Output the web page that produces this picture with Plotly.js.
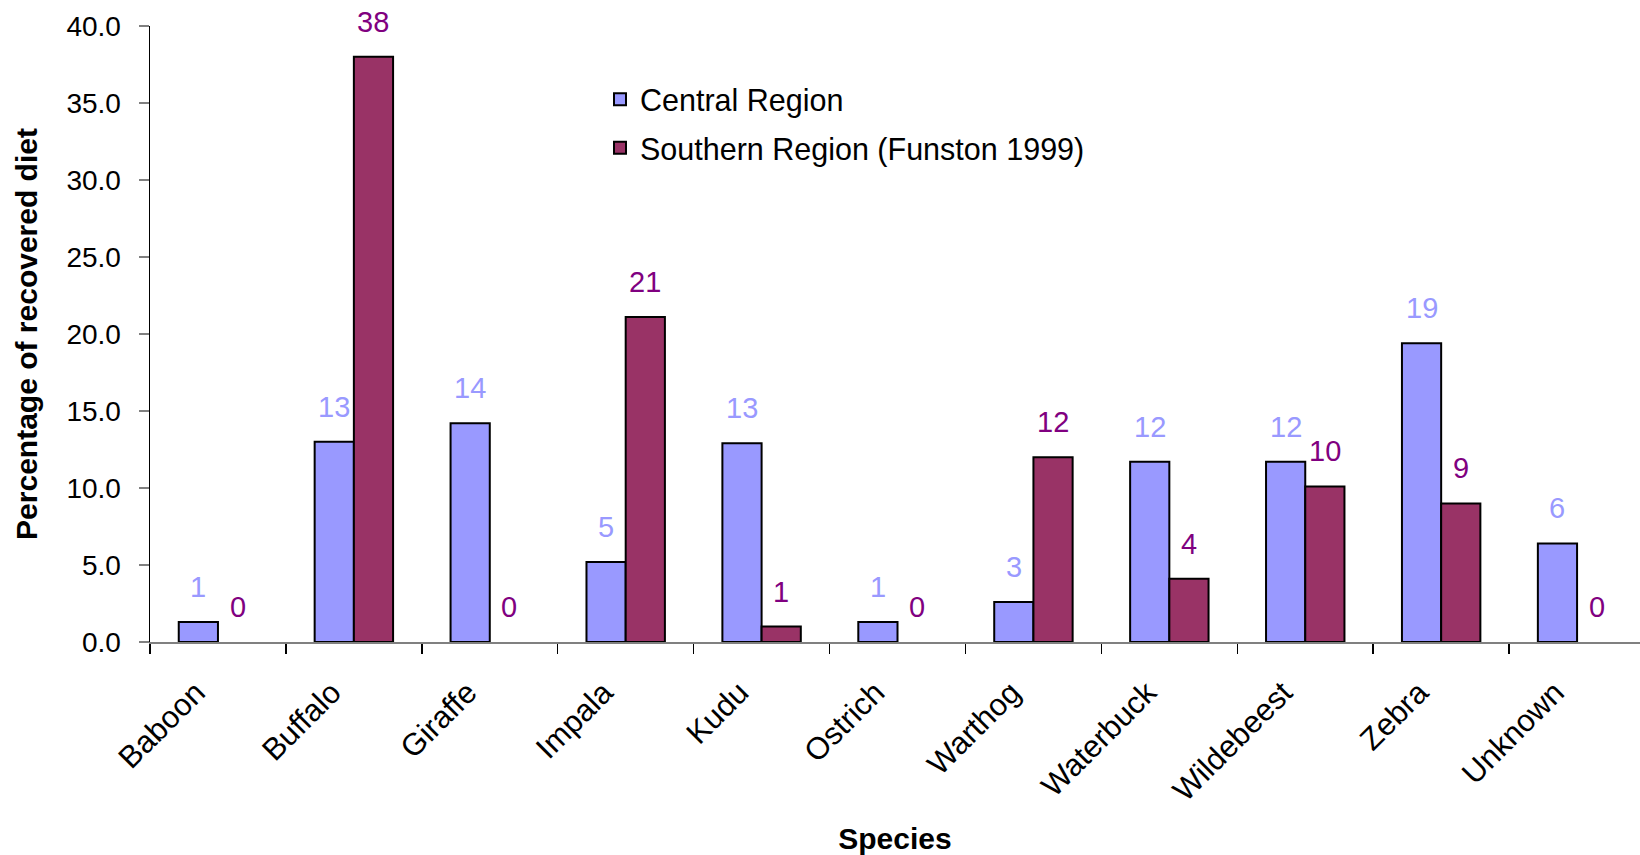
<!DOCTYPE html>
<html><head><meta charset="utf-8">
<script src="https://cdn.plot.ly/plotly-3.0.1.min.js"></script>
<style>html,body{margin:0;padding:0;background:#fff}#chart{width:1640px;height:855px}</style>
</head><body><div id="chart"></div>
<script>
const species = ['Baboon','Buffalo','Giraffe','Impala','Kudu','Ostrich','Warthog','Waterbuck','Wildebeest','Zebra','Unknown'];
const centralRegion = [1.3, 13.0, 14.2, 5.2, 12.9, 1.3, 2.6, 11.7, 11.7, 19.4, 6.4];
const southernRegion = [0, 38.0, 0, 21.1, 1.0, 0, 12.0, 4.1, 10.1, 9.0, 0];
const seriesNames = ['Central Region', 'Southern Region (Funston 1999)'];
const yTickValues = [0, 5, 10, 15, 20, 25, 30, 35, 40];

const FONT = 'Liberation Sans, Arial, sans-serif';
const barColors = ['#9999FF', '#993366'];
const labelColors = ['#9999FF', '#800080'];
const series = [centralRegion, southernRegion];

const traces = series.map((vals, k) => ({
  type: 'bar',
  name: seriesNames[k],
  x: species,
  y: vals.map(v => v === 0 ? null : v),
  marker: {color: barColors[k], line: {color: '#000000', width: 2}},
  legendgroup: 'g' + k,
  hoverinfo: 'x+y'
}));

const annotations = [];
series.forEach((vals, k) => {
  vals.forEach((v, i) => {
    annotations.push({
      x: species[i], y: v, xref: 'x', yref: 'y',
      xshift: k === 0 ? -19.6 : 19.6, yshift: 35,
      text: String(Math.round(v)), showarrow: false,
      xanchor: 'center', yanchor: 'middle',
      font: {family: FONT, size: 29, color: labelColors[k]}
    });
  });
});

const layout = {
  width: 1640, height: 855,
  margin: {l: 150, r: 0, t: 26, b: 213},
  paper_bgcolor: '#ffffff', plot_bgcolor: '#ffffff',
  font: {family: FONT, color: '#000000'},
  bargap: 0.423, bargroupgap: 0,
  showlegend: true,
  legend: {
    x: 0.302, y: 0.924, xanchor: 'left', yanchor: 'top',
    font: {family: FONT, size: 30.5, color: '#000000'},
    bgcolor: 'rgba(0,0,0,0)', traceorder: 'grouped', tracegroupgap: 6
  },
  xaxis: {
    type: 'category',
    range: [-0.5, 10.463],
    showline: true, linecolor: '#808080', linewidth: 2,
    ticks: 'outside', tickson: 'boundaries', ticklen: 10, tickcolor: '#000000', tickwidth: 1.5,
    tickangle: -45,
    tickfont: {family: FONT, size: 31, color: '#000000'},
    ticklabelstandoff: 18,
    ticklabelshift: -22,
    showgrid: false, zeroline: false,
    automargin: false,
    title: {text: '<b>Species</b>', font: {family: FONT, size: 30, color: '#000000'}, standoff: 32}
  },
  yaxis: {
    range: [0, 40],
    tickvals: yTickValues,
    tickformat: '.1f',
    showline: true, linecolor: '#000000', linewidth: 1.5,
    ticks: 'outside', ticklen: 10, tickcolor: '#808080', tickwidth: 1.5,
    tickfont: {family: FONT, size: 28, color: '#000000'},
    ticklabelstandoff: 12,
    showgrid: false, zeroline: false,
    automargin: false,
    title: {text: '<b>Percentage of recovered diet</b>', font: {family: FONT, size: 30, color: '#000000'}, standoff: 20}
  },
  annotations: annotations
};

Plotly.newPlot('chart', traces, layout, {displayModeBar: false, staticPlot: true});
</script>
</body></html>
